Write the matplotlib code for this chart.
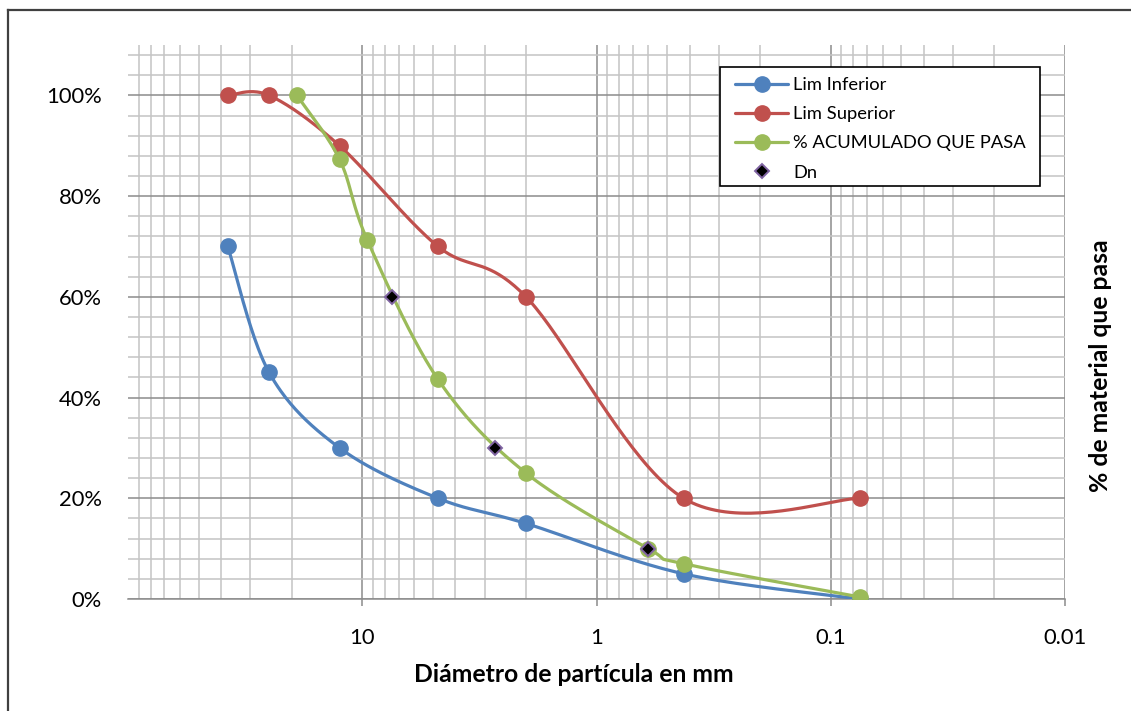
import matplotlib
matplotlib.use("Agg")
import matplotlib.pyplot as plt
import numpy as np
from matplotlib.ticker import FixedLocator, MultipleLocator, FuncFormatter
from matplotlib.lines import Line2D
from matplotlib.patches import Rectangle

plt.rcParams['font.family'] = ['Lato', 'DejaVu Sans']

# Datos (diámetro en mm, % que pasa)
lim_inf_d = [37.5, 25, 12.5, 4.75, 2.0, 0.425, 0.075]
lim_inf = [70, 45, 30, 20, 15, 5, 0]
lim_sup_d = [37.5, 25, 12.5, 4.75, 2.0, 0.425, 0.075]
lim_sup = [100, 100, 90, 70, 60, 20, 20]
acum_d = [19, 12.5, 9.5, 4.75, 2.0, 0.6, 0.425, 0.075]
acum = [100, 87.3, 71.2, 43.6, 25.0, 10.0, 7.0, 0.4]
dn_d = [7.5, 2.7, 0.6]
dn_pct = [60, 30, 10]

x_ticks = [10, 1, 0.1, 0.01]
x_labels = ['10', '1', '0.1', '0.01']

azul = '#4F81BD'
rojo = '#C0504D'
verde = '#9BBB59'


def suavizar(xd, yd, n=40):
    # curva suavizada tipo Excel (Bezier / Catmull-Rom) en escala log
    P = np.column_stack([np.log10(xd), np.asarray(yd, float)])
    P = np.vstack([P[0], P, P[-1]])
    t = np.linspace(0, 1, n, endpoint=False)[:, None]
    trozos = []
    for i in range(1, len(P) - 2):
        p0, p1, p2, p3 = P[i - 1], P[i], P[i + 1], P[i + 2]
        c1 = p1 + (p2 - p0) / 6
        c2 = p2 - (p3 - p1) / 6
        trozos.append((1 - t)**3 * p1 + 3 * (1 - t)**2 * t * c1
                      + 3 * (1 - t) * t**2 * c2 + t**3 * p2)
    trozos.append(P[-2][None, :])
    pts = np.vstack(trozos)
    marcas = list(range(0, n * (len(xd) - 1) + 1, n))
    return 10**pts[:, 0], pts[:, 1], marcas


W, H = 1131, 711
fig = plt.figure(figsize=(W / 100, H / 100), dpi=100)
ax = fig.add_axes([128 / W, 1 - 599 / H, (1065 - 128) / W, 554 / H])

# marco exterior
fig.add_artist(Line2D([8 / W, 8 / W], [0, 1 - 10 / H], color='#404040', lw=1.6))
fig.add_artist(Line2D([8 / W, 1], [1 - 10 / H, 1 - 10 / H], color='#404040', lw=1.6))

for xd, yd, col, lab in [(lim_inf_d, lim_inf, azul, 'Lim Inferior'),
                         (lim_sup_d, lim_sup, rojo, 'Lim Superior'),
                         (acum_d, acum, verde, '% ACUMULADO QUE PASA')]:
    xs, ys, marcas = suavizar(xd, yd)
    ax.plot(xs, ys, color=col, lw=2.3, marker='o', markersize=11,
            markevery=marcas, markeredgecolor=col, label=lab, zorder=3,
            solid_capstyle='round')

ax.plot(dn_d, dn_pct, linestyle='none', marker='D', markersize=7,
        markerfacecolor='black', markeredgecolor='#8064A2', markeredgewidth=1.4,
        label='Dn', zorder=4)

ax.set_xscale('log')
ax.set_xlim(100, 0.01)
ax.set_ylim(0, 110)

minors = [k * 10.0**e for e in range(-2, 2) for k in range(2, 10)]
ax.xaxis.set_major_locator(FixedLocator(x_ticks))
ax.xaxis.set_minor_locator(FixedLocator(minors))
ax.set_xticks(x_ticks, x_labels)
ax.yaxis.set_major_locator(MultipleLocator(20))
ax.yaxis.set_minor_locator(MultipleLocator(4))
ax.yaxis.set_major_formatter(FuncFormatter(lambda v, p: '%d%%' % v if v <= 100 else ''))

ax.grid(which='major', color='#8C8C8C', lw=1.1, zorder=0)
ax.grid(which='minor', color='#C4C4C4', lw=1.1, zorder=0)
ax.set_axisbelow(True)

for s in ['top', 'right', 'left']:
    ax.spines[s].set_visible(False)
ax.spines['bottom'].set_color('#8C8C8C')
ax.spines['bottom'].set_linewidth(1.1)

ax.tick_params(axis='x', which='major', length=5, width=1.1, color='#8C8C8C',
               pad=16, labelsize=15.8)
ax.tick_params(axis='x', which='minor', length=0)
ax.tick_params(axis='y', which='both', length=0, pad=19, labelsize=15.8)

fig.text(574 / W, 1 - 675 / H, 'Diámetro de partícula en mm', fontsize=17.8,
         fontweight='bold', ha='center', va='center')
fig.text(1100 / W, 1 - 366 / H, '% de material que pasa', fontsize=17.8,
         fontweight='bold', ha='center', va='center', rotation=90)

# leyenda con marco propio
marco = Rectangle((720 / W, 1 - 186 / H), 320 / W, 119 / H, transform=fig.transFigure,
                  facecolor='white', edgecolor='black', lw=1.2, zorder=9, clip_on=False)
ax.add_patch(marco)
leg = ax.legend(loc='upper left', bbox_to_anchor=(735 / W, 1 - 77 / H),
                bbox_transform=fig.transFigure, borderaxespad=0, borderpad=0,
                fontsize=13.2, frameon=False, handlelength=2.9,
                handletextpad=0.28, labelspacing=0.72)
leg.set_zorder(10)

fig.savefig('out.png', dpi=100, facecolor='white')
